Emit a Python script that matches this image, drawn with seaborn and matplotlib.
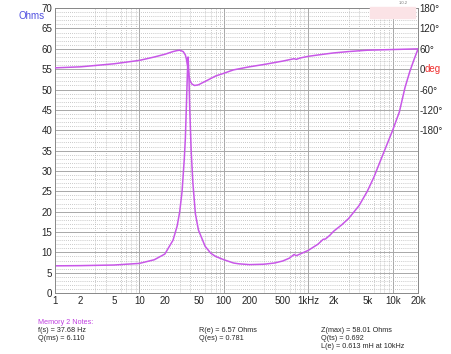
import numpy as np
import pandas as pd
import matplotlib
matplotlib.use("Agg")
import matplotlib.pyplot as plt
import seaborn as sns
from matplotlib.ticker import FixedLocator, NullFormatter

# impedance curve (Ohms)
imp_freq = [1, 2, 5, 10, 15, 20, 25, 28, 30, 32, 34, 35, 36, 37, 37.68, 38.5, 39.5,
            41, 43, 46, 50, 60, 70, 80, 100, 130, 150, 200, 300, 400, 500, 600, 680,
            720, 800, 1000, 1300, 1500, 1600, 1800, 2000, 2500, 3000, 4000, 5000, 6000,
            7000, 8000, 10000, 12000, 14000, 16000, 18000, 20000]
imp_ohms = [6.7, 6.75, 6.9, 7.3, 8.2, 9.6, 13, 16.5, 20, 25, 33, 38, 46, 54, 58.0, 54, 45,
            35, 27, 19.5, 15.5, 11.5, 9.8, 9.0, 8.2, 7.4, 7.2, 7.0, 7.1, 7.4, 7.9, 8.6, 9.5,
            9.2, 9.6, 10.5, 12, 13.2, 13.3, 14.2, 15.2, 16.8, 18.3, 21.5, 25, 28.5,
            32, 35, 40, 44.5, 50.5, 54.5, 57.5, 60]

# phase curve (degrees)
ph_freq = [1, 2, 5, 10, 15, 20, 25, 28, 30, 33, 35, 36, 37, 37.68, 38.5, 40, 42, 45,
           50, 60, 80, 100, 130, 200, 300, 500, 680, 720, 800, 1000, 1500, 2000, 3000,
           5000, 10000, 20000]
ph_deg = [4, 7, 16, 26, 36, 44, 52, 55, 56, 52, 42, 30, 12, 4, -18, -36, -44, -48,
          -46, -36, -20, -12, -2, 7, 14, 24, 31, 29, 33, 38, 44, 48, 52,
          56, 58, 60]

x_ticks = [1, 2, 5, 10, 20, 50, 100, 200, 500, 1000, 2000, 5000, 10000, 20000]
x_labels = ["1", "2", "5", "10", "20", "50", "100", "200", "500", "1kHz", "2k", "5k", "10k", "20k"]
ph_ticks = [180, 120, 60, 0, -60, -120, -180]
ph_labels = ["180°", "120°", "60°", "0", "-60°", "-120°", "-180°"]

LINE = "#c857e8"

sns.set_style("white")
plt.rcParams["font.family"] = ["Liberation Sans", "DejaVu Sans"]

fig = plt.figure(figsize=(4.51, 3.54), dpi=100)
ax = fig.add_axes([0.122, 0.172, 0.805, 0.805])

imp = pd.DataFrame({"freq": imp_freq, "ohms": imp_ohms})
ph = pd.DataFrame({"freq": ph_freq, "deg": ph_deg})

sns.lineplot(data=imp, x="freq", y="ohms", ax=ax, color=LINE, lw=1.1, sort=False)
ax.set_xscale("log")
ax.set_xlim(1, 20000)
ax.set_ylim(0, 70)

# grid: solid majors, dotted minors
ax.yaxis.set_major_locator(FixedLocator(np.arange(0, 71, 5)))
ax.yaxis.set_minor_locator(FixedLocator(np.arange(0, 71, 1)))
minors = [m * 10 ** d for d in range(0, 5) for m in range(2, 10) if m * 10 ** d < 20000]
ax.xaxis.set_major_locator(FixedLocator(x_ticks))
ax.xaxis.set_minor_locator(FixedLocator(minors))
ax.xaxis.set_minor_formatter(NullFormatter())
ax.set_xticklabels(x_labels)
ax.grid(which="minor", color="#b8b8b8", ls=(0, (1, 1.5)), lw=0.6)
ax.grid(which="major", axis="y", color="#a8a8a8", ls="-", lw=0.7)
for d in [10, 100, 1000, 10000]:
    ax.axvline(d, color="#a8a8a8", lw=0.7, zorder=0.5)
ax.tick_params(which="both", length=0, labelsize=7, pad=2)
ax.set_xlabel("")
ax.set_ylabel("")
for s in ax.spines.values():
    s.set_color("#888888")
    s.set_linewidth(0.7)

ax2 = ax.twinx()
sns.lineplot(data=ph, x="freq", y="deg", ax=ax2, color=LINE, lw=1.1, sort=False)
ax2.set_ylim(-660, 180)
ax2.set_yticks(ph_ticks)
ax2.set_yticklabels(ph_labels)
ax2.tick_params(length=0, labelsize=7, pad=1)
ax2.set_ylabel("")
for s in ax2.spines.values():
    s.set_visible(False)
ax2.text(1.018, 0, "deg", color="#f03030", fontsize=7, va="center", ha="left",
         transform=ax2.get_yaxis_transform())

fig.text(0.04, 0.955, "Ohms", color="#5050e0", fontsize=7, va="center")

# pink box + version text at top right
fig.patches.append(matplotlib.patches.Rectangle((370 / 451, 1 - 18 / 354), 45 / 451, 11 / 354,
                                                transform=fig.transFigure, color="#fbe3e6",
                                                zorder=5))
fig.text(0.895, 0.992, "1.0.2", fontsize=3, color="#777777", ha="center", va="center")

# notes
fs = 5.2
fig.text(38 / 451, 1 - 323 / 354, "Memory 2 Notes:", color="#c040e0", fontsize=fs, va="center")
fig.text(38 / 451, 1 - 331 / 354, "f(s) = 37.68 Hz", fontsize=fs, va="center")
fig.text(38 / 451, 1 - 339 / 354, "Q(ms) = 6.110", fontsize=fs, va="center")
fig.text(199 / 451, 1 - 331 / 354, "R(e) = 6.57 Ohms", fontsize=fs, va="center")
fig.text(199 / 451, 1 - 339 / 354, "Q(es) = 0.781", fontsize=fs, va="center")
fig.text(321 / 451, 1 - 331 / 354, "Z(max) = 58.01 Ohms", fontsize=fs, va="center")
fig.text(321 / 451, 1 - 339 / 354, "Q(ts) = 0.692", fontsize=fs, va="center")
fig.text(321 / 451, 1 - 347 / 354, "L(e) = 0.613 mH at 10kHz", fontsize=fs, va="center")

fig.savefig("out.png", dpi=100)
